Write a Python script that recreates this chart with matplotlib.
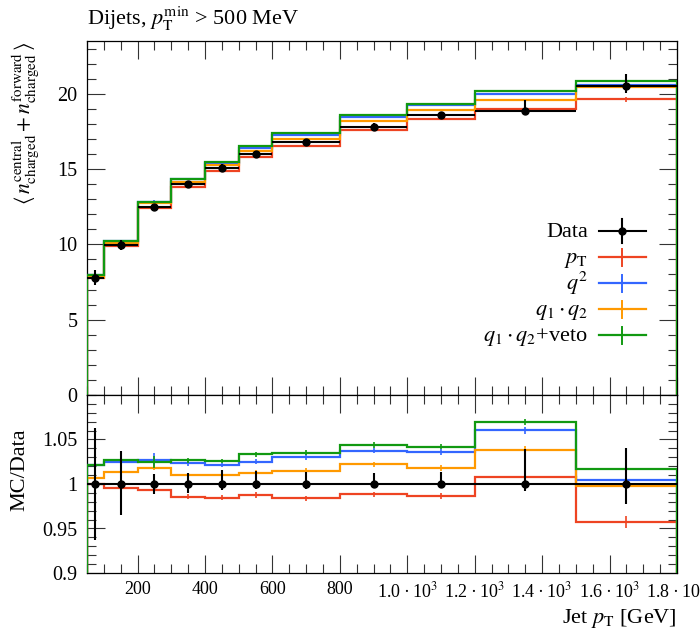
import numpy as np
import matplotlib as mpl
mpl.use('Agg')
import matplotlib.pyplot as plt
from matplotlib.ticker import MultipleLocator, FixedLocator, FixedFormatter

plt.rcParams['font.family'] = ['Liberation Serif', 'DejaVu Serif']
plt.rcParams['mathtext.fontset'] = 'stix'

# ── data ─────────────────────────────────────────────────────────────────────
bin_edges = [50, 100, 200, 300, 400, 500, 600, 800, 1000, 1200, 1500, 1800]

data_y      = [7.78, 9.95, 12.50, 14.00, 15.10, 15.97, 16.77, 17.80, 18.56, 18.86, 20.50]
data_err_up = [0.49, 0.37, 0.14, 0.17, 0.24, 0.23, 0.23, 0.23, 0.25, 0.75, 0.84]
data_err_dn = [0.49, 0.35, 0.14, 0.14, 0.11, 0.09, 0.09, 0.09, 0.09, 0.15, 0.45]

mc_pt    = [7.78, 9.905, 12.42, 13.80, 14.87, 15.77, 16.50, 17.59, 18.31, 19.01, 19.62]
mc_q2    = [7.95, 10.20, 12.84, 14.33, 15.42, 16.37, 17.28, 18.46, 19.23, 20.00, 20.60]
mc_q1q2  = [7.83, 10.08, 12.73, 14.14, 15.26, 16.17, 17.02, 18.19, 18.89, 19.59, 20.46]
mc_veto  = [7.95, 10.22, 12.81, 14.37, 15.49, 16.50, 17.36, 18.58, 19.34, 20.17, 20.84]

mc_pt_err   = [0.03, 0.03, 0.04, 0.04, 0.04, 0.05, 0.05, 0.05, 0.06, 0.07, 0.14]
mc_q2_err   = [0.03, 0.04, 0.09, 0.04, 0.04, 0.05, 0.05, 0.05, 0.06, 0.07, 0.10]
mc_q1q2_err = [0.03, 0.03, 0.04, 0.04, 0.04, 0.05, 0.05, 0.05, 0.06, 0.07, 0.10]
mc_veto_err = [0.03, 0.04, 0.08, 0.04, 0.04, 0.05, 0.05, 0.05, 0.06, 0.07, 0.10]

mc_labels = [r'$p_\mathrm{T}$', r'$q^2$', r'$q_1 \cdot q_2$', r'$q_1 \cdot q_2$+veto']
mc_colors = ['#EE4422', '#3366FF', '#FF9900', '#119911']

xtick_vals   = [200, 400, 600, 800, 1000, 1200, 1400, 1600, 1800]
xtick_labels = ['200', '400', '600', '800',
                '1.0\u2009·\u200910$^3$', '1.2\u2009·\u200910$^3$', '1.4\u2009·\u200910$^3$',
                '1.6\u2009·\u200910$^3$', '1.8\u2009·\u200910$^3$']

# ── derived arrays ───────────────────────────────────────────────────────────
edges   = np.array(bin_edges, dtype=float)
centers = 0.5 * (edges[1:] + edges[:-1])
xerr    = [centers - edges[:-1], edges[1:] - centers]
data    = np.array(data_y)
mc_sets = [(np.array(mc_pt), np.array(mc_pt_err)),
           (np.array(mc_q2), np.array(mc_q2_err)),
           (np.array(mc_q1q2), np.array(mc_q1q2_err)),
           (np.array(mc_veto), np.array(mc_veto_err))]

# ── figure layout ────────────────────────────────────────────────────────────
W, H = 700, 632
fig = plt.figure(figsize=(W / 100, H / 100), dpi=100)
x0, x1 = 87 / W, 677 / W
ax  = fig.add_axes([x0, 1 - 395 / H, x1 - x0, (395 - 41) / H])
rax = fig.add_axes([x0, 1 - 573 / H, x1 - x0, (573 - 395) / H])


def style_ticks(a):
    a.tick_params(which='both', direction='in', top=True, right=True,
                  color='#333333', width=0.8, labelsize=14.5)
    a.tick_params(which='major', length=13, pad=7)
    a.tick_params(which='minor', length=6.5)
    for s in a.spines.values():
        s.set_linewidth(0.9)


# ── main panel ───────────────────────────────────────────────────────────────
for (vals, err), col in zip(mc_sets, mc_colors):
    ax.stairs(vals, edges, color=col, lw=1.6, zorder=3)
    ax.errorbar(centers, vals, yerr=err, fmt='none', ecolor=col, elinewidth=1.2, zorder=3)

ax.errorbar(centers, data, xerr=xerr, yerr=[data_err_dn, data_err_up],
            fmt='o', color='k', ms=5, elinewidth=1.5, capsize=0, zorder=5)

ax.set_xlim(edges[0], edges[-1])
ax.set_ylim(0, 23.5)
ax.xaxis.set_major_locator(MultipleLocator(200))
ax.xaxis.set_minor_locator(MultipleLocator(50))
ax.yaxis.set_major_locator(MultipleLocator(5))
ax.yaxis.set_minor_locator(MultipleLocator(1))
style_ticks(ax)
ax.tick_params(labelbottom=False)
ax.set_ylabel(r'$\langle\, n_{\mathrm{charged}}^{\mathrm{central}} + n_{\mathrm{charged}}^{\mathrm{forward}} \,\rangle$',
              fontsize=15.5, loc='top')
ax.yaxis.set_label_coords(-0.078, 1.0)

# legend, drawn by hand so the rows are evenly spaced like the original
leg_y    = 0.463
leg_step = 0.0734
hx0, hx1, hxm, tx = 0.867, 0.947, 0.907, 0.849
ax.plot([hx0, hx1], [leg_y, leg_y], color='k', lw=1.5, transform=ax.transAxes)
ax.plot([hxm, hxm], [leg_y - 0.034, leg_y + 0.034], color='k', lw=1.5, transform=ax.transAxes)
ax.plot([hxm], [leg_y], 'o', color='k', ms=5, transform=ax.transAxes)
ax.text(tx, leg_y - 0.018, 'Data', fontsize=16, ha='right', va='baseline', transform=ax.transAxes)
for i, (lab, col) in enumerate(zip(mc_labels, mc_colors)):
    y = leg_y - (i + 1) * leg_step
    ax.plot([hx0, hx1], [y, y], color=col, lw=1.6, transform=ax.transAxes)
    ax.plot([hxm, hxm], [y - 0.024, y + 0.024], color=col, lw=1.4, transform=ax.transAxes)
    ax.text(tx, y - 0.018, lab, fontsize=16, ha='right', va='baseline', transform=ax.transAxes)

fig.text(x0, 1 - 25 / H, r'Dijets, $p_\mathrm{T}^\mathrm{min}$ > 500 MeV', fontsize=16,
         ha='left', va='baseline')

# ── ratio panel ──────────────────────────────────────────────────────────────
for (vals, err), col in zip(mc_sets, mc_colors):
    rax.stairs(vals / data, edges, color=col, lw=1.6, zorder=3)
    rax.errorbar(centers, vals / data, yerr=err / data, fmt='none', ecolor=col,
                 elinewidth=1.2, zorder=3)

rax.errorbar(centers, np.ones_like(data), xerr=xerr,
             yerr=[np.array(data_err_dn) / data, np.array(data_err_up) / data],
             fmt='o', color='k', ms=5, elinewidth=1.5, capsize=0, zorder=5)

rax.set_xlim(edges[0], edges[-1])
rax.set_ylim(0.9, 1.1)
rax.xaxis.set_major_locator(FixedLocator(xtick_vals))
rax.xaxis.set_major_formatter(FixedFormatter(xtick_labels))
rax.xaxis.set_minor_locator(MultipleLocator(50))
rax.yaxis.set_major_locator(FixedLocator([0.9, 0.95, 1.0, 1.05]))
rax.yaxis.set_major_formatter(FixedFormatter(['0.9', '0.95', '1', '1.05']))
rax.yaxis.set_minor_locator(MultipleLocator(0.01))
style_ticks(rax)
rax.tick_params(axis='x', which='major', pad=6, labelsize=13)
rax.set_ylabel('MC/Data', fontsize=16)
rax.yaxis.set_label_coords(-0.097, 0.58)
rax.set_xlabel(r'Jet $p_\mathrm{T}$ [GeV]', fontsize=16, loc='right')

fig.savefig('out.png', dpi=100)
